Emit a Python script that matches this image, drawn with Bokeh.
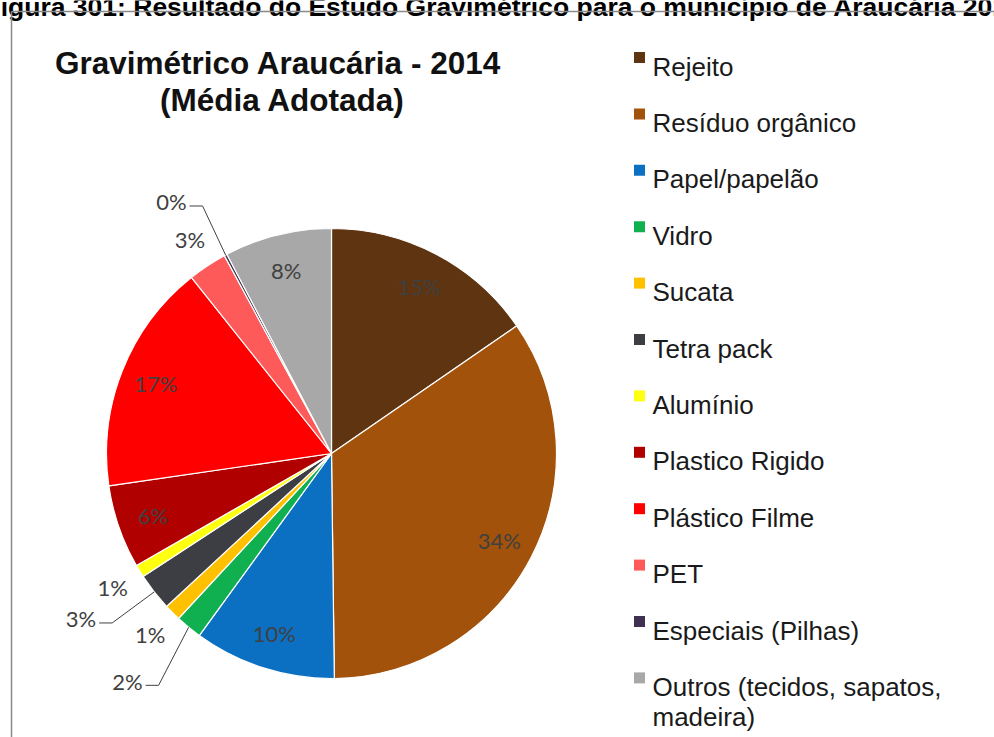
import math
from bokeh.plotting import figure
from bokeh.models import Range1d, ColumnDataSource
from bokeh.core.properties import value
from bokeh.embed import file_html
from bokeh.resources import INLINE

# ---------------- data ----------------
caption = "Figura 301: Resultado do Estudo Gravimétrico para o município de Araucária 2014"
title_lines = ["Gravimétrico Araucária  - 2014", "(Média Adotada)"]
categories = ["Rejeito", "Resíduo orgânico", "Papel/papelão", "Vidro", "Sucata",
              "Tetra pack", "Alumínio", "Plastico Rigido", "Plástico Filme", "PET",
              "Especiais (Pilhas)", "Outros (tecidos, sapatos,\nmadeira)"]
values = [15.4, 34.4, 10.2, 1.9, 1.2, 2.7, 0.9, 6.0, 16.6, 2.8, 0.2, 7.7]
colors = ["#5E3411", "#A3520B", "#0B70C2", "#10B050", "#FFC000", "#3D3D44",
          "#FFFF10", "#B00000", "#FF0000", "#FF5A5A", "#403151", "#A8A8A8"]

# ---------------- layout ----------------
W, H = 994, 737
CX, CY, R = 331, 453, 225          # pie centre (screen px) and radius
label_mode = ["in", "in", "in", "lead", "out", "lead", "out", "in", "in", "out", "lead", "in"]
lead_elbow = {3: (-30, 58), 5: (-42, 31), 10: (-23, -49)}   # elbow offset from slice edge
R_IN, R_OUT = 0.84 * R, 1.14 * R

def Y(sy):
    return H - sy

p = figure(width=W, height=H, x_range=Range1d(0, W), y_range=Range1d(0, H),
           output_backend="svg", toolbar_location=None, min_border=0,
           background_fill_color="white", border_fill_color="white")
p.axis.visible = False
p.grid.visible = False
p.outline_line_color = None

total = sum(values)
starts, ends, mids = [], [], []
cum = 0.0
for v in values:
    f0 = cum / total
    f1 = (cum + v) / total
    starts.append(math.pi / 2 - 2 * math.pi * f1)
    ends.append(math.pi / 2 - 2 * math.pi * f0)
    mids.append(math.pi * (f0 + f1))      # clockwise from top
    cum += v

src = ColumnDataSource(dict(name=categories, value=values, color=colors,
                            start=starts, end=ends))
p.wedge(x=CX, y=Y(CY), radius=R, start_angle="start", end_angle="end",
        fill_color="color", line_color="white", line_width=1.2, source=src)

# ---------------- pie labels ----------------
lx, ly, lt, align = [], [], [], []
seg_x, seg_y = [], []
for i, v in enumerate(values):
    a = mids[i]
    txt = "%d%%" % round(v / total * 100)
    mode = label_mode[i]
    if mode == "in":
        lx.append(CX + R_IN * math.sin(a)); ly.append(Y(CY - R_IN * math.cos(a)))
        align.append("center")
    elif mode == "out":
        lx.append(CX + R_OUT * math.sin(a)); ly.append(Y(CY - R_OUT * math.cos(a)))
        align.append("center")
    else:
        ex, ey = CX + R * math.sin(a), CY - R * math.cos(a)
        dx, dy = lead_elbow[i]
        bx, by = ex + dx, ey + dy
        seg_x.append([ex, bx, bx - 13]); seg_y.append([Y(ey), Y(by), Y(by)])
        lx.append(bx - 16); ly.append(Y(by - 4))
        align.append("right")
    lt.append(txt)

p.multi_line(xs=seg_x, ys=seg_y, line_color="#404040", line_width=1)
p.text(x=lx, y=ly, text=lt, text_align=align, text_baseline="middle",
       text_font=value("Lato"), text_font_size="22px", text_color="#404040")

# ---------------- title ----------------
p.text(x=[282, 282], y=[Y(62), Y(99)], text=title_lines, text_align="center",
       text_baseline="alphabetic", text_font=value("Liberation Sans"),
       text_font_style="bold", text_font_size="31.5px", text_color="#111111")

# caption (cut off at the top of the page)
p.text(x=[-16], y=[Y(6)], text=[caption], text_align="left", text_baseline="alphabetic",
       text_font=value("Liberation Sans"), text_font_style="bold",
       text_font_size="26.5px", text_color="#000000")

# frame of the embedded chart
p.segment(x0=[11, 11], y0=[Y(11), Y(11)], x1=[W, 11], y1=[Y(11), 0],
          line_color="#8a8a8a", line_width=1.5)

# ---------------- legend ----------------
row0, step = 57, 56.4
sq_x, sq_y = [], []
tx, ty, tt = [], [], []
for i, name in enumerate(categories):
    cy = row0 + i * step
    sq_x.append(639); sq_y.append(Y(cy))
    for k, line in enumerate(name.split("\n")):
        tx.append(652); ty.append(Y(cy + 9 + 30 * k)); tt.append(line)
p.scatter(x=sq_x, y=sq_y, marker="square", size=11, fill_color=colors, line_color=None)
p.text(x=tx, y=ty, text=tt, text_align="left", text_baseline="alphabetic",
       text_font=value("Liberation Sans"), text_font_size="26px", text_color="#1a1a1a")

open("out.html", "w").write(file_html(p, INLINE))
